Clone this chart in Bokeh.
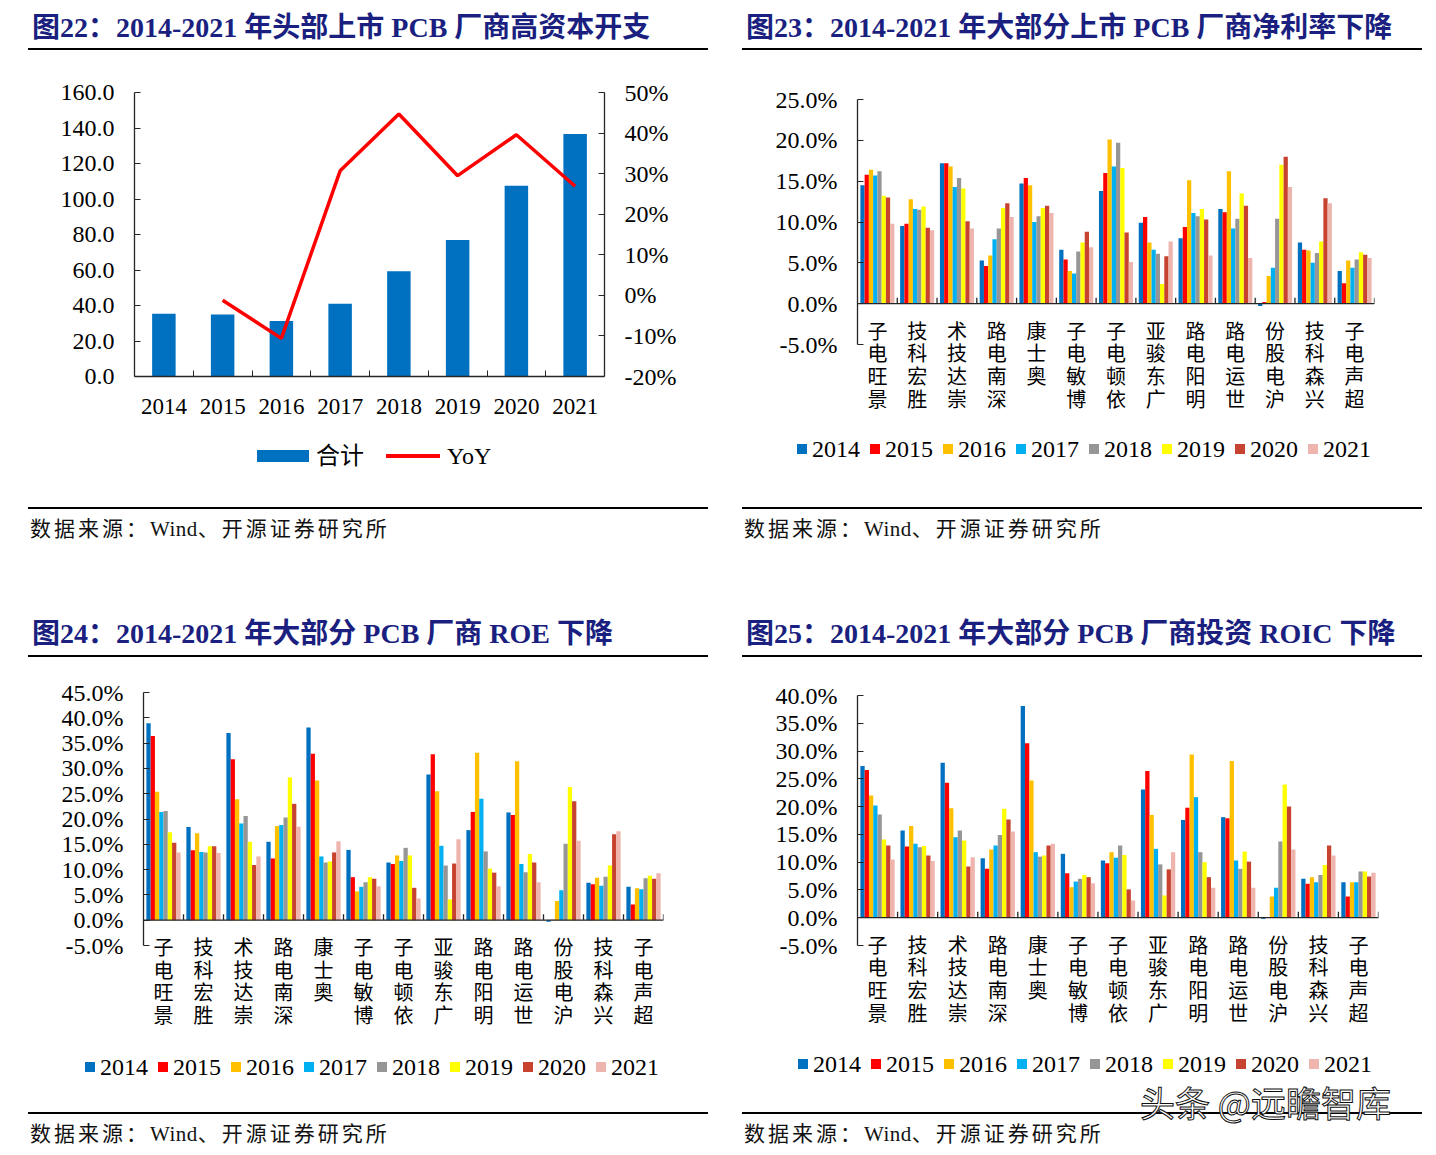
import math
from bokeh.plotting import figure
from bokeh.models import (Range1d, LinearAxis, FixedTicker, PrintfTickFormatter,
                          Div, Span, ColumnDataSource, Spacer)
from bokeh.layouts import column, row
from bokeh.transform import dodge
from bokeh.core.properties import value
from bokeh.embed import file_html
from bokeh.resources import INLINE

# ---------------- data ----------------
years = ["2014", "2015", "2016", "2017", "2018", "2019", "2020", "2021"]
capex_total = [35.4, 35.0, 31.3, 41.0, 59.3, 76.9, 107.4, 136.6]
capex_yoy = [None, -1.2, -10.6, 30.7, 44.7, 29.5, 39.6, 26.9]  # %

companies = ["景旺电子", "胜宏科技", "崇达技术", "深南电路", "奥士康", "博敏电子", "依顿电子",
             "广东骏亚", "明阳电路", "世运电路", "沪电股份", "兴森科技", "超声电子"]

# net profit margin (%), one list per year, companies in order above
npm_2014 = [14.5, 9.5, 17.2, 5.3, 14.7, 6.6, 13.8, 9.9, 8.0, 11.6, -0.3, 7.5, 4.0]
npm_2015 = [15.8, 9.8, 17.2, 4.6, 15.4, 5.4, 16.0, 10.6, 9.4, 11.2, 0.2, 6.6, 2.5]
npm_2016 = [16.4, 12.8, 16.8, 5.9, 14.5, 4.0, 20.1, 7.5, 15.1, 16.2, 3.4, 6.5, 5.3]
npm_2017 = [15.7, 11.6, 14.3, 7.9, 10.0, 3.7, 16.8, 6.6, 11.1, 9.2, 4.4, 5.0, 4.4]
npm_2018 = [16.2, 11.5, 15.4, 9.2, 10.7, 6.4, 19.7, 6.1, 10.7, 10.4, 10.4, 6.2, 5.4]
npm_2019 = [13.2, 11.9, 14.1, 11.7, 11.7, 7.5, 16.6, 2.4, 11.6, 13.5, 17.0, 7.6, 6.3]
npm_2020 = [13.0, 9.3, 10.1, 12.3, 12.0, 8.8, 8.7, 5.8, 10.3, 12.0, 18.0, 12.9, 6.0]
npm_2021 = [9.8, 9.0, 9.2, 10.6, 11.1, 6.9, 5.1, 7.6, 5.9, 5.6, 14.3, 12.3, 5.6]

# ROE (%)
roe_2014 = [38.9, 18.4, 37.0, 15.5, 38.1, 13.9, 11.4, 28.8, 17.8, 21.3, -0.3, 7.4, 6.6]
roe_2015 = [36.4, 13.8, 31.8, 12.2, 32.9, 8.5, 11.1, 32.8, 21.4, 20.8, 0.1, 7.1, 3.1]
roe_2016 = [25.4, 17.2, 23.9, 18.6, 27.6, 5.7, 12.8, 25.5, 33.1, 31.4, 3.8, 8.4, 6.3]
roe_2017 = [21.4, 13.5, 19.1, 18.8, 12.6, 6.6, 11.7, 14.7, 24.0, 11.1, 5.9, 6.8, 6.1]
roe_2018 = [21.6, 13.4, 20.6, 20.3, 11.4, 7.5, 14.3, 10.8, 13.6, 9.5, 15.1, 8.6, 8.3]
roe_2019 = [17.4, 14.6, 15.5, 28.2, 11.6, 8.5, 12.8, 4.1, 10.2, 13.1, 26.3, 10.8, 8.8]
roe_2020 = [15.3, 14.6, 10.9, 23.0, 13.4, 8.2, 6.4, 11.2, 9.4, 11.4, 23.5, 17.0, 8.2]
roe_2021 = [13.4, 13.3, 12.6, 18.5, 15.6, 6.7, 4.3, 16.0, 6.7, 7.5, 15.7, 17.6, 9.3]

# ROIC (%)
roic_2014 = [27.3, 15.7, 27.9, 10.7, 38.1, 11.5, 10.3, 23.1, 17.6, 18.1, -0.2, 7.0, 6.4]
roic_2015 = [26.6, 12.8, 24.3, 8.8, 31.4, 8.0, 9.8, 26.4, 19.8, 17.9, 0.1, 6.1, 3.8]
roic_2016 = [22.0, 16.5, 19.7, 12.3, 24.7, 5.5, 11.8, 18.5, 29.4, 28.2, 3.8, 7.3, 6.4]
roic_2017 = [20.2, 13.3, 14.5, 13.0, 11.8, 6.5, 10.8, 12.4, 21.7, 10.3, 5.4, 6.4, 6.4]
roic_2018 = [18.6, 12.7, 15.7, 14.9, 11.0, 7.0, 13.0, 9.6, 11.8, 8.8, 13.7, 7.7, 8.3]
roic_2019 = [14.1, 12.9, 13.9, 19.6, 11.2, 7.7, 11.3, 4.0, 10.0, 11.9, 24.0, 9.5, 8.3]
roic_2020 = [13.0, 11.2, 9.2, 17.7, 13.0, 7.3, 5.1, 8.7, 7.3, 10.1, 20.0, 13.0, 7.4]
roic_2021 = [10.5, 10.2, 10.9, 15.5, 13.3, 6.2, 3.1, 11.8, 5.4, 5.4, 12.3, 11.2, 8.1]

titles = ["图22：2014-2021 年头部上市 PCB 厂商高资本开支",
          "图23：2014-2021 年大部分上市 PCB 厂商净利率下降",
          "图24：2014-2021 年大部分 PCB 厂商 ROE 下降",
          "图25：2014-2021 年大部分 PCB 厂商投资 ROIC 下降"]
legend_22 = ["合计", "YoY"]
source_parts = ["数据来源：", "Wind", "、开源证券研究所"]
watermark_text = "头条 @远瞻智库"

# ---------------- styles ----------------
SERIF = "'Liberation Serif', 'Noto Sans CJK SC'"
CJK = "Noto Sans CJK SC"
YEAR_COLORS = ["#0070C0", "#FF0000", "#FFC000", "#00B0F0", "#969696", "#FFFF00", "#C8432F", "#EEB5AE"]
BAR_22 = "#0070C0"
LINE_22 = "#FF0000"
AXIS_COLOR = "#262626"
PANEL_W = 680


def title_div(text, height, pad):
    html = (f'<div style="box-sizing:border-box;width:{PANEL_W}px;height:{height}px;'
            f'padding-top:{pad}px;padding-left:4px;border-bottom:2px solid #000;'
            f'font-family:{SERIF},serif;font-weight:bold;font-size:28px;'
            f'line-height:{height - pad - 2}px;color:#1A1F80;white-space:nowrap;">{text}</div>')
    return Div(text=html, width=PANEL_W, height=height, margin=0)


def source_div(height, watermark=False):
    wm = ""
    if watermark:
        wm = (f'<div style="position:absolute;left:398px;top:-30px;font-family:\'{CJK}\';'
              f'font-size:35px;line-height:36px;letter-spacing:0px;color:#fff;'
              f'-webkit-text-stroke:1px #111;white-space:nowrap;">{watermark_text}</div>')
    a, b, c = source_parts
    html = (f'<div style="position:relative;box-sizing:border-box;width:{PANEL_W}px;'
            f'height:{height}px;border-top:2px solid #000;padding-left:2px;'
            f'font-family:{SERIF},serif;font-size:21px;letter-spacing:3px;'
            f'color:#111;line-height:40px;white-space:nowrap;">{a}'
            f'<span style="letter-spacing:0.5px;">{b}</span>{c}{wm}</div>')
    return Div(text=html, width=PANEL_W, height=height, margin=0, styles={"overflow": "visible"})


def legend_div(height, entries, lx, cy, standoff, spacing):
    """entries: (label, kind, color, glyph_w, glyph_h)"""
    parts = []
    for i, (label, kind, color, gw, gh) in enumerate(entries):
        mr = spacing if i < len(entries) - 1 else 0
        parts.append(f'<span style="display:inline-block;width:{gw}px;height:{gh}px;'
                     f'background:{color};margin-right:{standoff}px;"></span>'
                     f'<span style="margin-right:{mr}px;">{label}</span>')
    html = (f'<div style="position:relative;width:{PANEL_W}px;height:{height}px;">'
            f'<div style="position:absolute;left:{lx}px;top:{cy - 14}px;height:28px;'
            f'display:flex;align-items:center;font-family:{SERIF},serif;font-size:24px;'
            f'line-height:28px;color:#000;white-space:nowrap;">{"".join(parts)}</div></div>')
    return Div(text=html, width=PANEL_W, height=height, margin=0)


def base_figure(height, x_range, y_range, left, right, top, bottom, **kw):
    p = figure(width=PANEL_W, height=height, x_range=x_range, y_range=y_range,
               output_backend="svg", toolbar_location=None,
               min_border_left=left, min_border_right=right,
               min_border_top=top, min_border_bottom=bottom, **kw)
    p.outline_line_color = None
    p.grid.visible = False
    p.background_fill_color = "white"
    p.border_fill_color = "white"
    return p


def style_value_axis(ax, ticks, fmt, standoff):
    ax.ticker = FixedTicker(ticks=ticks)
    ax.formatter = PrintfTickFormatter(format=fmt)
    ax.major_label_text_font = SERIF
    ax.major_label_text_font_size = "24px"
    ax.major_label_text_color = "#000"
    ax.major_tick_in = 6
    ax.major_tick_out = 0
    ax.minor_tick_line_color = None
    ax.axis_line_color = AXIS_COLOR
    ax.major_tick_line_color = AXIS_COLOR
    ax.axis_line_width = 1.3
    ax.major_label_standoff = standoff


# ---------------- chart 22 ----------------
def capex_chart():
    n = len(years)
    src = ColumnDataSource(dict(
        x=list(range(n)),
        total=capex_total,
        yoy=[float("nan") if v is None else v for v in capex_yoy],
    ))
    # figure spans y 50..430; frame: left 134, right 604, top 92, bottom 376
    p = base_figure(380, Range1d(-0.5, n - 0.5), Range1d(0, 160), 106, 104, 42, 54)
    p.extra_y_ranges = {"yoy": Range1d(-20, 50)}
    style_value_axis(p.yaxis[0], list(range(0, 161, 20)), "%.1f", 20)
    rax = LinearAxis(y_range_name="yoy")
    style_value_axis(rax, list(range(-20, 51, 10)), "%d%%", 20)
    p.add_layout(rax, "right")

    xa = p.xaxis[0]
    xa.ticker = FixedTicker(ticks=list(range(n)), minor_ticks=[i + 0.5 for i in range(n - 1)])
    xa.major_label_overrides = {i: y for i, y in enumerate(years)}
    xa.major_tick_line_color = None
    xa.minor_tick_in = 6
    xa.minor_tick_out = 0
    xa.minor_tick_line_color = AXIS_COLOR
    xa.axis_line_color = AXIS_COLOR
    xa.axis_line_width = 1.3
    xa.major_label_text_font = SERIF
    xa.major_label_text_font_size = "23px"
    xa.major_label_text_color = "#000"
    xa.major_label_standoff = 16

    p.vbar(x="x", top="total", width=0.4, source=src, fill_color=BAR_22, line_color=None)
    p.line(x="x", y="yoy", source=src, y_range_name="yoy", line_color=LINE_22, line_width=3.5)

    leg = legend_div(77, [(legend_22[0], "bar", BAR_22, 52, 12),
                          (legend_22[1], "line", LINE_22, 54, 4)],
                     229, 26, 7, 22)
    return p, leg


# ---------------- grouped charts ----------------
def grouped_chart(series, ymin, ymax, fig_top, fig_h, top_px, axis_bottom_px, frame_bottom_px,
                  left, right):
    n = len(companies)
    pxunit = (axis_bottom_px - top_px) / (ymax - ymin)
    ext = (frame_bottom_px - axis_bottom_px) / pxunit
    p = base_figure(fig_h, Range1d(-0.5, n - 0.5), Range1d(ymin - ext, ymax),
                    left, right, top_px - fig_top, fig_top + fig_h - frame_bottom_px,
                    x_axis_location=None)
    style_value_axis(p.yaxis[0], list(range(ymin, ymax + 1, 5)), "%.1f%%", 20)
    p.yaxis[0].bounds = (ymin, ymax)

    data = {"x": list(range(n))}
    for y, vals in zip(years, series):
        data["v" + y] = vals
    src = ColumnDataSource(data)

    w = 0.107
    for k, y in enumerate(years):
        p.vbar(x=dodge("x", (k - 3.5) * w, range=p.x_range), top="v" + y, width=w,
               source=src, fill_color=YEAR_COLORS[k], line_color=None)

    p.add_layout(Span(location=0, dimension="width", line_color=AXIS_COLOR, line_width=1.3))
    bsrc = ColumnDataSource(dict(b=[i + 0.5 for i in range(n)], z=[0] * n, h=[6 / pxunit] * n))
    p.segment(x0="b", y0="z", x1="b", y1="h", source=bsrc, line_color=AXIS_COLOR, line_width=1.3)

    lsrc = ColumnDataSource(dict(x=list(range(n)), y=[0] * n,
                                 lab=["\n".join(reversed(c)) for c in companies]))
    p.text(x="x", y="y", text="lab", source=lsrc, text_font=value(CJK), text_font_size="20px",
           text_align="center", text_baseline="top", y_offset=12, text_line_height=0.78,
           text_color="#000")
    return p


def year_legend(height, lx, cy):
    return legend_div(height, [(y, "bar", c, 10, 10) for y, c in zip(years, YEAR_COLORS)],
                      lx, cy, 5, 10)


p22, l22 = capex_chart()
p23 = grouped_chart([npm_2014, npm_2015, npm_2016, npm_2017, npm_2018, npm_2019, npm_2020, npm_2021],
                    -5, 25, 50, 375, 99, 344, 424, 115, 48)
l23 = year_legend(82, 55, 24)
p24 = grouped_chart([roe_2014, roe_2015, roe_2016, roe_2017, roe_2018, roe_2019, roe_2020, roe_2021],
                    -5, 45, 657, 383, 692, 945, 1038, 115, 45)
l24 = year_legend(72, 57, 27)
p25 = grouped_chart([roic_2014, roic_2015, roic_2016, roic_2017, roic_2018, roic_2019, roic_2020, roic_2021],
                    -5, 40, 657, 383, 695, 945, 1038, 115, 44)
l25 = year_legend(72, 56, 24)

colA1 = column(title_div(titles[0], 50, 8), p22, l22, source_div(98), spacing=0, margin=0)
colB1 = column(title_div(titles[1], 50, 8), p23, l23, source_div(98), spacing=0, margin=0)
colA2 = column(title_div(titles[2], 52, 8), p24, l24, source_div(43), spacing=0, margin=0)
colB2 = column(title_div(titles[3], 52, 8), p25, l25, source_div(43, watermark=True), spacing=0, margin=0)

layout = column(
    row(Spacer(width=28, height=10, margin=0), colA1, Spacer(width=34, height=10, margin=0), colB1,
        spacing=0, margin=0),
    row(Spacer(width=28, height=10, margin=0), colA2, Spacer(width=34, height=10, margin=0), colB2,
        spacing=0, margin=0),
    spacing=0, margin=0)

with open("out.html", "w") as f:
    f.write(file_html(layout, INLINE, title="PCB"))
